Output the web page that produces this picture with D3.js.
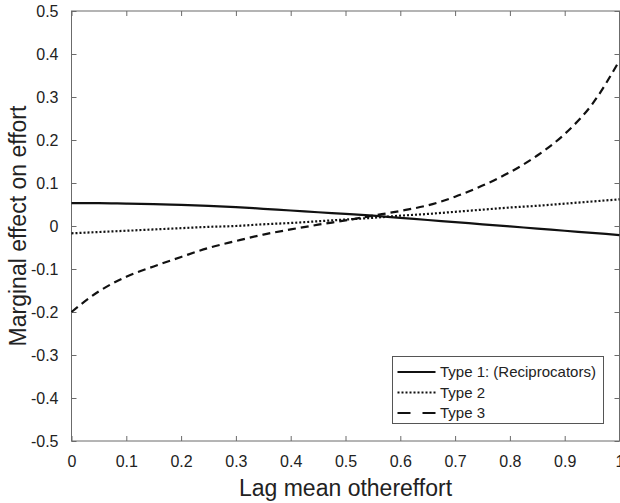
<!DOCTYPE html>
<html>
<head>
<meta charset="utf-8">
<script src="https://cdn.jsdelivr.net/npm/d3@7"></script>
<style>
  body { margin: 0; background: #fff; }
  text { font-family: "Liberation Sans", Arial, Helvetica, sans-serif; fill: #222; }
</style>
</head>
<body>
<div id="chart"></div>
<script>
var svgWidth = 620;
var svgHeight = 503;

var margin = { top: 11, right: 0.5, bottom: 62, left: 71.5 };

var width = svgWidth - margin.left - margin.right;
var height = svgHeight - margin.top - margin.bottom;

// data
var xValues = [0, 0.05, 0.1, 0.15, 0.2, 0.25, 0.3, 0.35, 0.4, 0.45, 0.5,
               0.55, 0.6, 0.65, 0.7, 0.75, 0.8, 0.85, 0.9, 0.95, 1];
var type1 = [0.053, 0.053, 0.052, 0.051, 0.049, 0.047, 0.044, 0.040, 0.036, 0.032, 0.028,
             0.024, 0.019, 0.014, 0.009, 0.004, -0.001, -0.006, -0.011, -0.016, -0.021];
var type2 = [-0.017, -0.014, -0.011, -0.008, -0.005, -0.002, 0.000, 0.004, 0.007, 0.011, 0.015,
             0.019, 0.024, 0.028, 0.033, 0.038, 0.043, 0.047, 0.052, 0.057, 0.062];
var type3 = [-0.200, -0.152, -0.118, -0.094, -0.072, -0.051, -0.035, -0.020, -0.008, 0.003, 0.013,
             0.024, 0.035, 0.048, 0.068, 0.094, 0.125, 0.164, 0.214, 0.283, 0.385];

var seriesNames = ["Type 1: (Reciprocators)", "Type 2", "Type 3"];
var seriesDash = ["none", "2,2", "8,5"];

var xTicks = [0, 0.1, 0.2, 0.3, 0.4, 0.5, 0.6, 0.7, 0.8, 0.9, 1];
var xTickLabels = ["0", "0.1", "0.2", "0.3", "0.4", "0.5", "0.6", "0.7", "0.8", "0.9", "1"];
var yTicks = [-0.5, -0.4, -0.3, -0.2, -0.1, 0, 0.1, 0.2, 0.3, 0.4, 0.5];
var yTickLabels = ["-0.5", "-0.4", "-0.3", "-0.2", "-0.1", "0", "0.1", "0.2", "0.3", "0.4", "0.5"];

var svg = d3.select("#chart")
  .append("svg")
  .attr("width", svgWidth)
  .attr("height", svgHeight);

var chartGroup = svg.append("g")
  .attr("transform", `translate(${margin.left}, ${margin.top})`);

var xScale = d3.scaleLinear().domain([0, 1]).range([0, width]);
var yScale = d3.scaleLinear().domain([-0.5, 0.5]).range([height, 0]);

var axisColor = "#6b6b6b";

function styleAxis(g, showLabels) {
  g.select(".domain").remove();
  g.selectAll(".tick line").attr("stroke", axisColor);
  if (!showLabels) g.selectAll(".tick text").remove();
  g.selectAll(".tick text")
    .attr("fill", "#222")
    .style("font-size", "16px")
    .style("font-family", "'Liberation Sans', Arial, sans-serif");
}

// bottom and top (ticks pointing inward)
chartGroup.append("g")
  .attr("transform", `translate(0, ${height})`)
  .call(d3.axisBottom(xScale).tickValues(xTicks)
    .tickFormat((d, i) => xTickLabels[i]).tickSizeInner(-5).tickPadding(15))
  .call(g => styleAxis(g, true));

chartGroup.append("g")
  .call(d3.axisTop(xScale).tickValues(xTicks).tickSizeInner(-5))
  .call(g => styleAxis(g, false));

chartGroup.append("g")
  .call(d3.axisLeft(yScale).tickValues(yTicks)
    .tickFormat((d, i) => yTickLabels[i]).tickSizeInner(-5).tickPadding(13))
  .call(g => styleAxis(g, true));

chartGroup.append("g")
  .attr("transform", `translate(${width}, 0)`)
  .call(d3.axisRight(yScale).tickValues(yTicks).tickSizeInner(-5))
  .call(g => styleAxis(g, false));

// box
chartGroup.append("rect")
  .attr("width", width)
  .attr("height", height)
  .attr("fill", "none")
  .attr("stroke", axisColor)
  .attr("stroke-width", 1);

var line = d3.line()
  .x(d => xScale(d[0]))
  .y(d => yScale(d[1]))
  .curve(d3.curveMonotoneX);

[type1, type2, type3].forEach(function(vals, i) {
  chartGroup.append("path")
    .datum(xValues.map((x, j) => [x, vals[j]]))
    .attr("fill", "none")
    .attr("stroke", "#111")
    .attr("stroke-width", 2.2)
    .attr("stroke-dasharray", seriesDash[i])
    .attr("d", line);
});

// legend
var legend = svg.append("g").attr("transform", "translate(392.5, 356.5)");
legend.append("rect")
  .attr("width", 211)
  .attr("height", 67)
  .attr("fill", "#fff")
  .attr("stroke", "#555")
  .attr("stroke-width", 1);

seriesNames.forEach(function(name, i) {
  var yy = 15.5 + i * 20.5;
  legend.append("line")
    .attr("x1", 5).attr("x2", 43)
    .attr("y1", yy).attr("y2", yy)
    .attr("stroke", "#111")
    .attr("stroke-width", 2.2)
    .attr("stroke-dasharray", i === 2 ? "13,12" : seriesDash[i]);
  legend.append("text")
    .attr("x", 47.5)
    .attr("y", yy)
    .attr("dy", "0.36em")
    .style("font-size", "15px")
    .text(name);
});

// axis labels
svg.append("text")
  .attr("x", margin.left + width / 2)
  .attr("y", 496)
  .attr("text-anchor", "middle")
  .style("font-size", "23px")
  .text("Lag mean othereffort");

svg.append("text")
  .attr("transform", `translate(26, ${margin.top + height / 2}) rotate(-90)`)
  .attr("text-anchor", "middle")
  .style("font-size", "23px")
  .text("Marginal effect on effort");
</script>
</body>
</html>
